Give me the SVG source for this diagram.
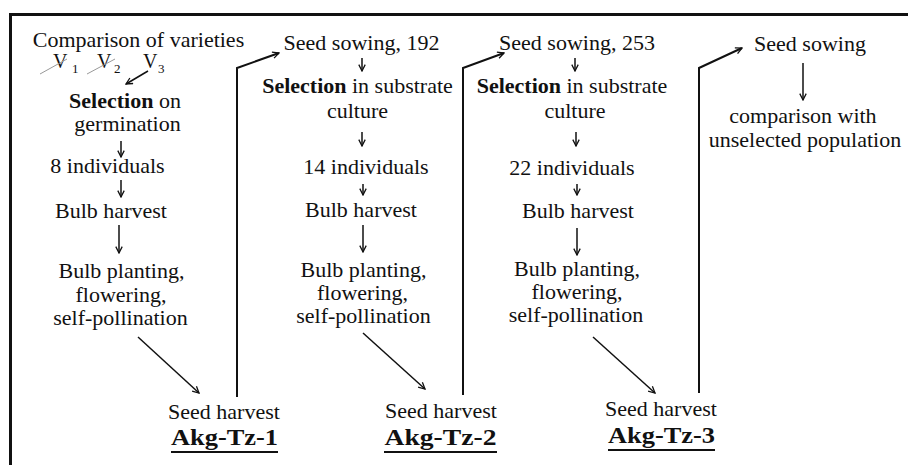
<svg xmlns="http://www.w3.org/2000/svg" width="908" height="465" viewBox="0 0 908 465">
<defs>
<style>
text{font-family:"Liberation Serif","Times New Roman",serif;font-size:22px;fill:#111;text-anchor:middle}
.b{font-weight:bold}
.lab{font-weight:bold;font-size:24px}
.sub{font-size:13px;text-anchor:start}
.v{text-anchor:start;font-size:20px}
.ln{stroke:#111;fill:none}
.thick{stroke-width:2}
.thin{stroke-width:1.5}
.ar{marker-end:url(#ah)}
</style>
<marker id="ah" viewBox="0 0 10 10" refX="9" refY="5" markerWidth="8" markerHeight="8" orient="auto" markerUnits="userSpaceOnUse">
<path d="M1,1 L9,5 L1,9" fill="none" stroke="#111" stroke-width="1.6"/>
</marker>
</defs>
<rect width="908" height="465" fill="#fff"/>
<path d="M10.5,465 V14.5 H908" fill="none" stroke="#111" stroke-width="3"/>

<g id="col1">
<g id="n-comparison"><text x="138.5" y="47">Comparison of varieties</text></g>
<g id="n-varieties">
<text class="v" x="53" y="68">V</text><text class="sub" x="72" y="73">1</text>
<text class="v" x="97" y="68">V</text><text class="sub" x="114" y="73">2</text>
<text class="v" x="143" y="68">V</text><text class="sub" x="158" y="73">3</text>
<line x1="40" y1="74" x2="67" y2="59" stroke="#999" stroke-width="1"/>
<line x1="87" y1="74" x2="115" y2="59" stroke="#999" stroke-width="1"/>
</g>
<g id="n-sel1"><text x="125" y="108"><tspan class="b">Selection</tspan> on</text><text x="127.5" y="131">germination</text></g>
<g id="n-ind8"><text x="107.5" y="173">8 individuals</text></g>
<g id="n-bulb1"><text x="111" y="218">Bulb harvest</text></g>
<g id="n-plant1"><text x="121.5" y="278">Bulb planting,</text><text x="121" y="302">flowering,</text><text x="120.5" y="325">self-pollination</text></g>
<g id="n-harv1"><text x="224" y="419">Seed harvest</text><text class="lab" x="224.5" y="445" textLength="107" lengthAdjust="spacingAndGlyphs">Akg-Tz-1</text><line x1="171" y1="452" x2="278" y2="452" stroke="#111" stroke-width="2"/></g>
</g>

<g id="col2">
<g id="n-sow2"><text x="361.5" y="50">Seed sowing, 192</text></g>
<g id="n-sel2"><text x="357.5" y="93"><tspan class="b">Selection</tspan> in substrate</text><text x="357.5" y="118">culture</text></g>
<g id="n-ind14"><text x="366" y="174">14 individuals</text></g>
<g id="n-bulb2"><text x="361" y="217">Bulb harvest</text></g>
<g id="n-plant2"><text x="363.5" y="277">Bulb planting,</text><text x="362.5" y="300">flowering,</text><text x="363.5" y="323">self-pollination</text></g>
<g id="n-harv2"><text x="441" y="418">Seed harvest</text><text class="lab" x="440.5" y="445" textLength="112" lengthAdjust="spacingAndGlyphs">Akg-Tz-2</text><line x1="384" y1="452" x2="497" y2="452" stroke="#111" stroke-width="2"/></g>
</g>

<g id="col3">
<g id="n-sow3"><text x="577" y="50">Seed sowing, 253</text></g>
<g id="n-sel3"><text x="572" y="93"><tspan class="b">Selection</tspan> in substrate</text><text x="575" y="118">culture</text></g>
<g id="n-ind22"><text x="572" y="175">22 individuals</text></g>
<g id="n-bulb3"><text x="578" y="218">Bulb harvest</text></g>
<g id="n-plant3"><text x="577" y="276">Bulb planting,</text><text x="577" y="299">flowering,</text><text x="576" y="322">self-pollination</text></g>
<g id="n-harv3"><text x="661" y="416">Seed harvest</text><text class="lab" x="661.5" y="443" textLength="107" lengthAdjust="spacingAndGlyphs">Akg-Tz-3</text><line x1="608" y1="450" x2="715" y2="450" stroke="#111" stroke-width="2"/></g>
</g>

<g id="col4">
<g id="n-sow4"><text x="810" y="51">Seed sowing</text></g>
<g id="n-compare"><text x="803" y="123">comparison with</text><text x="805" y="147">unselected population</text></g>
</g>

<g id="connectors" class="ln">
<line class="ln thin ar" x1="148" y1="71" x2="126" y2="84"/>
<line class="ln thin ar" x1="121" y1="141" x2="121" y2="157"/>
<line class="ln thin ar" x1="121" y1="180" x2="121" y2="197"/>
<line class="ln thin ar" x1="119" y1="225" x2="119" y2="253"/>
<line class="ln thin ar" x1="138" y1="337" x2="199" y2="393"/>
<path class="ln thick ar" d="M237,397 V68 L279,53"/>

<line class="ln thin ar" x1="362" y1="58" x2="362" y2="71"/>
<line class="ln thin ar" x1="362" y1="132" x2="362" y2="146"/>
<line class="ln thin ar" x1="363" y1="184" x2="363" y2="195"/>
<line class="ln thin ar" x1="363" y1="225" x2="363" y2="252"/>
<line class="ln thin ar" x1="363" y1="333" x2="425" y2="389"/>
<path class="ln thick ar" d="M463,395 V68 L504,53"/>

<line class="ln thin ar" x1="575" y1="58" x2="575" y2="71"/>
<line class="ln thin ar" x1="576" y1="132" x2="576" y2="146"/>
<line class="ln thin ar" x1="577" y1="184" x2="577" y2="195"/>
<line class="ln thin ar" x1="577" y1="228" x2="577" y2="255"/>
<line class="ln thin ar" x1="593" y1="337" x2="655" y2="393"/>
<path class="ln thick ar" d="M699,393 V68 L742,48"/>

<line class="ln thin ar" x1="803" y1="63" x2="803" y2="100"/>
</g>
</svg>
